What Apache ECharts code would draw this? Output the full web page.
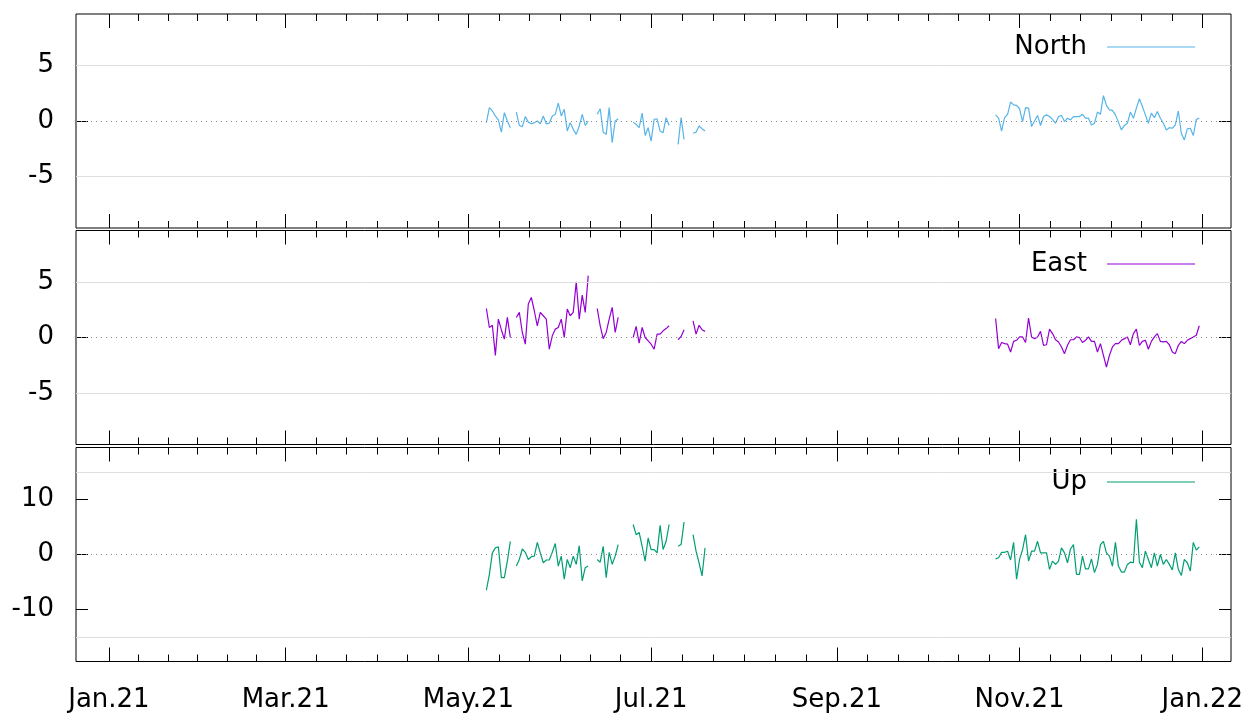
<!DOCTYPE html>
<html><head><meta charset="utf-8">
<script src="https://cdn.jsdelivr.net/npm/echarts@6/dist/echarts.min.js"></script>
<style>html,body{margin:0;padding:0;background:#fff}#c{width:1250px;height:713px}</style>
</head><body><div id="c"></div>
<script>
// ---- data ----
const startA = '2021-05-07';
const startB = '2021-10-24';
const northA = [-0.15, 1.2, 0.9, 0.45, 0.1, -1.0, 0.75, 0.0, -0.6, null,
 0.8, -0.4, -0.5, 0.4, -0.1, -0.25, -0.15, 0.0, -0.25, 0.45,
 -0.25, -0.2, 0.45, 0.6, 1.6, 0.45, 1.05, -0.9, -0.15, -0.75,
 -1.2, -0.45, 0.6, -0.4, 0.0, null, null, 0.6, 1.1, -1.0,
 -1.2, 1.2, -1.95, 0.0, 0.2, null, null, null, null, -0.1,
 -0.3, -0.6, 0.7, -1.3, -0.6, -1.8, 0.15, 0.2, -0.9, -1.05,
 0.3, -0.4, null, null, -2.1, 0.3, -1.65, null, null, -1.1,
 -1.0, -0.45, -0.7, -0.9];
const northB = [0.55, 0.25, -0.9, 0.3, 0.6, 1.7, 1.45, 1.4, 1.1, -0.05,
 1.2, 1.15, -0.5, 0.0, 0.5, -0.4, 0.4, 0.55, 0.4, 0.15,
 -0.2, 0.4, 0.5, -0.05, 0.25, 0.1, 0.4, 0.4, 0.4, 0.6,
 0.25, 0.25, -0.35, -0.2, 0.8, 0.6, 2.27, 1.4, 1.0, 0.95,
 0.55, -0.1, -0.8, -0.4, -0.2, 0.8, 0.25, 1.15, 2.0, 1.3,
 0.55, -0.2, 0.7, 0.3, 0.85, 0.25, -0.2, -0.8, -0.6, -0.65,
 -0.35, 0.9, -1.1, -1.7, -0.7, -0.65, -1.3, 0.15, 0.25];
const eastA = [2.6, 0.9, 1.1, -1.6, 1.65, 0.7, -0.15, 1.8, 0.0, null,
 1.8, 2.25, 0.45, -0.6, 3.0, 3.6, 2.4, 1.05, 2.25, 1.95,
 1.65, -1.05, 0.15, 0.75, 0.9, 1.65, 0.0, 2.55, 1.95, 2.25,
 5.0, 1.65, 3.8, 2.25, 5.55, null, null, 2.6, 1.05, -0.1,
 0.45, 1.65, 2.7, 0.45, 1.8, null, null, null, null, 0.0,
 1.0, -0.5, 0.9, 0.0, -0.3, -0.6, -1.05, 0.3, 0.3, 0.6,
 0.8, 1.05, null, null, -0.2, 0.1, 0.7, null, null, 1.5,
 0.3, 1.1, 0.7, 0.55];
const eastB = [1.7, -1.0, -0.45, -0.55, -0.6, -1.3, -0.35, -0.25, 0.05, 0.05,
 -0.45, 1.75, 0.05, -0.1, 0.05, 0.55, -0.7, -0.65, 0.75, 0.35,
 -0.2, -0.4, -0.85, -1.45, -0.7, -0.2, -0.2, 0.05, 0.0, -0.45,
 -0.25, 0.05, -0.35, -0.35, -1.3, -0.55, -1.6, -2.65, -1.6, -0.85,
 -0.55, -0.55, -0.25, -0.1, 0.05, -0.65, 0.35, 0.75, -0.7, -0.35,
 -0.25, -1.05, -0.35, 0.05, 0.35, -0.35, -0.4, -0.35, -0.65, -1.3,
 -1.45, -0.7, -0.35, -0.55, -0.25, -0.1, 0.05, 0.2, 1.05];
const upA = [-6.5, -3.6, 0.3, 1.2, 1.4, -4.2, -4.2, -1.2, 2.4, null,
 -2.1, -0.9, 1.0, 0.4, -0.9, -0.4, -0.3, 2.2, 0.3, -1.5,
 -1.0, -1.0, 0.4, 2.0, -2.1, -0.3, -4.5, -0.9, -2.4, -0.3,
 -1.8, 1.6, -4.8, -2.4, -2.1, null, null, -0.9, -1.4, 1.5,
 -4.2, 0.4, -1.8, -0.3, 1.8, null, null, null, null, 5.45,
 3.6, 4.0, 1.5, -1.2, 3.0, 0.9, 0.9, 0.3, 5.3, 0.9,
 2.4, 5.45, null, null, 1.5, 1.8, 5.9, null, null, 3.6,
 0.6, -1.5, -3.9, 1.2];
const upB = [-0.8, -0.6, 0.4, 0.4, 0.6, -1.0, 2.2, -4.5, -0.9, 0.9,
 3.6, -1.2, 0.6, 0.6, 2.4, 0.3, 0.3, 0.3, -2.7, -1.2,
 -1.8, -1.2, 1.2, 0.3, -1.5, 1.0, 1.8, -3.6, -3.6, -0.3,
 -2.6, -2.6, -0.8, -3.3, -1.8, 1.8, 2.4, 0.3, -0.3, -2.1,
 2.2, -2.1, -3.2, -3.2, -1.8, -1.4, -1.5, 6.4, -1.4, -2.4,
 0.6, -0.9, -2.4, 0.3, -2.1, 0.0, -1.8, -0.9, -1.8, -2.8,
 0.3, -2.7, -3.8, -0.9, -1.5, -3.0, 2.2, 0.8, 1.4];
const seriesNames = ['North', 'East', 'Up'];
const majorTickDates = ['2021-01-01','2021-03-01','2021-05-01','2021-07-01','2021-09-01','2021-11-01','2022-01-01'];
const tickLabels = ['Jan.21','Mar.21','May.21','Jul.21','Sep.21','Nov.21','Jan.22'];
const yTicksSmall = [-5, 0, 5];
const yTicksLarge = [-10, 0, 10];

// ---- helpers ----
const DAY = 86400000;
const ts = s => Date.parse(s + 'T00:00:00Z');
function build(a, b) {
  const out = [];
  const t0 = ts(startA), t1 = ts(startB);
  a.forEach((v, i) => out.push([t0 + i * DAY, v]));
  out.push([t0 + a.length * DAY, null]);
  b.forEach((v, i) => out.push([t1 + i * DAY, v]));
  return out;
}
const majors = majorTickDates.map(ts);
const minors = [];
for (let k = 0; k < majors.length - 1; k++) {
  const step = (majors[k + 1] - majors[k]) / 6;
  for (let j = 1; j < 6; j++) minors.push(majors[k] + j * step);
}
const xMin = Date.UTC(2020, 11, 21, 0);
const xMax = Date.UTC(2022, 0, 10, 14);
const FONT = 'DejaVu Sans';
const colors = ['#56b4e9', '#9400d3', '#009e73'];
const values = [[northA, northB], [eastA, eastB], [upA, upB]];
const ranges = [9.6, 9.6, 19.45];
const refLines = [5, 5, 15];
const yTicks = [yTicksSmall, yTicksSmall, yTicksLarge];
const gridTops = [14, 230.5, 447.5];
const gridH = 214;
const legendTops = [29, 246, 464];

const grid = [], xAxis = [], yAxis = [], series = [], legend = [];
for (let g = 0; g < 3; g++) {
  grid.push({left: 76, right: 19, top: gridTops[g], height: gridH, show: true,
    borderColor: '#000', borderWidth: 1, backgroundColor: 'transparent', outerBoundsMode: 'none'});
  const mkX = (pos, vals, len, labels) => ({
    type: 'value', gridIndex: g, position: pos, min: xMin, max: xMax,
    axisLine: {show: false, onZero: false}, splitLine: {show: false},
    axisTick: {show: true, inside: true, length: len, customValues: vals, lineStyle: {color: '#000', width: 1}},
    axisLabel: labels ? {show: true, customValues: majors, margin: 26, fontSize: 26, fontFamily: FONT, color: '#000',
      formatter: v => { const i = majors.indexOf(v); return i >= 0 ? tickLabels[i] : ''; }} : {show: false}
  });
  const xBase = xAxis.length;
  xAxis.push(mkX('bottom', majors, 14, g === 2));
  xAxis.push(mkX('bottom', minors, 7, false));
  xAxis.push(mkX('top', majors, 14, false));
  xAxis.push(mkX('top', minors, 7, false));
  const mkY = (pos, labels) => ({
    type: 'value', gridIndex: g, position: pos, min: -ranges[g], max: ranges[g],
    axisLine: {show: false, onZero: false}, splitLine: {show: false},
    axisTick: {show: true, inside: true, length: 12, customValues: yTicks[g], lineStyle: {color: '#000', width: 1}},
    axisLabel: labels ? {show: true, customValues: yTicks[g], margin: 22, fontSize: 26, fontFamily: FONT, color: '#000',
      padding: [5, 0, 0, 0]} : {show: false}
  });
  const yBase = yAxis.length;
  yAxis.push(mkY('left', true));
  yAxis.push(mkY('right', false));
  // reference lines (drawn underneath)
  series.push({
    type: 'line', xAxisIndex: xBase, yAxisIndex: yBase, data: [], z: 1, silent: true,
    markLine: {silent: true, symbol: ['none', 'none'], label: {show: false}, animation: false,
      data: [
        {yAxis: refLines[g], lineStyle: {color: '#dedede', type: 'solid', width: 1}},
        {yAxis: -refLines[g], lineStyle: {color: '#dedede', type: 'solid', width: 1}},
        {yAxis: 0, lineStyle: {color: '#888', type: [1, 4], width: 1}}
      ]}
  });
  series.push({
    name: seriesNames[g], type: 'line', xAxisIndex: xBase, yAxisIndex: yBase, z: 3,
    data: build(values[g][0], values[g][1]), symbol: 'none', showSymbol: false,
    connectNulls: false, lineStyle: {color: colors[g], width: 1.2}, itemStyle: {color: colors[g]},
    animation: false
  });
  legend.push({
    data: [seriesNames[g]], right: 50, top: legendTops[g], align: 'right', orient: 'horizontal',
    icon: 'rect', itemWidth: 88, itemHeight: 1.2, selectedMode: false,
    itemStyle: {color: colors[g], borderWidth: 0},
    textStyle: {fontSize: 26, fontFamily: FONT, color: '#000', padding: [0, 15, 0, 0]}
  });
}

const chart = echarts.init(document.getElementById('c'), null, {renderer: 'canvas'});
chart.setOption({backgroundColor: '#fff', animation: false, grid, xAxis, yAxis, series, legend});
</script></body></html>
